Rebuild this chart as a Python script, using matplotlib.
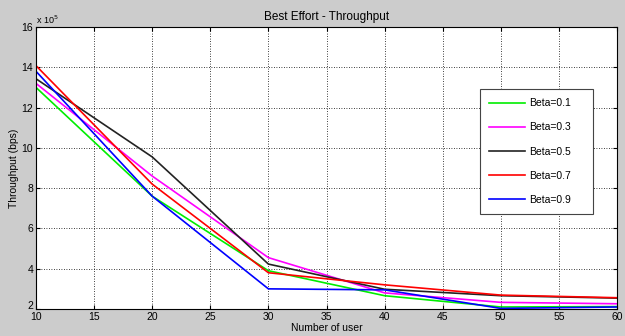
import matplotlib
matplotlib.use("Agg")
import matplotlib.pyplot as plt
from matplotlib.transforms import ScaledTranslation

plt.rcParams["font.family"] = ["Liberation Sans", "DejaVu Sans"]

users = [10, 20, 30, 40, 50, 60]
# throughput in units of 1e5 bps
beta_01 = [13.0, 7.6, 3.9, 2.66, 2.1, 2.12]
beta_03 = [13.2, 8.6, 4.55, 2.8, 2.33, 2.26]
beta_05 = [13.43, 9.55, 4.23, 2.98, 2.66, 2.54]
beta_07 = [14.08, 8.2, 3.8, 3.2, 2.69, 2.56]
beta_09 = [13.8, 7.6, 3.0, 2.95, 2.03, 2.1]

series = [
    ("Beta=0.1", beta_01, "#00ee00"),
    ("Beta=0.3", beta_03, "#ff00ff"),
    ("Beta=0.5", beta_05, "#222222"),
    ("Beta=0.7", beta_07, "#ff0000"),
    ("Beta=0.9", beta_09, "#0000ff"),
]

fig = plt.figure(figsize=(6.25, 3.36), dpi=100, facecolor="#cccccc")
ax = fig.add_axes([36 / 625, 1 - 309 / 336, 581 / 625, 282 / 336])

for label, vals, color in series:
    ax.plot(users, vals, color=color, linewidth=1.2, label=label)

ax.set_xlim(10, 60)
ax.set_ylim(2, 16)
ax.set_xticks(range(10, 61, 5))
ax.set_yticks(range(2, 17, 2))
ax.tick_params(direction="in", top=True, right=True, labelsize=7.5, length=3, pad=2)
ax.grid(True, color="black", linestyle=(0, (1, 2)), linewidth=0.6)

# lift the bottom y label so it does not sit on the "10" x label
lab0 = ax.get_yticklabels()[0]
lab0.set_transform(lab0.get_transform() + ScaledTranslation(0, 3 / 72, fig.dpi_scale_trans))

ax.set_title("Best Effort - Throughput", fontsize=8.5, pad=5)
ax.set_xlabel("Number of user", fontsize=7.5, labelpad=1)
ax.set_ylabel("Throughput (bps)", fontsize=7.5, labelpad=2)
ax.text(0.0, 1.005, "x 10$^5$", transform=ax.transAxes, fontsize=6.5,
        ha="left", va="bottom")

leg = ax.legend(loc="upper left", bbox_to_anchor=(0.764, 0.333, 0.194, 0.447),
                mode="expand", borderaxespad=0, fontsize=7.5,
                handlelength=3.4, handletextpad=0.4, labelspacing=1.35,
                borderpad=0.9, fancybox=False, framealpha=1, edgecolor="#444444")
leg.get_frame().set_linewidth(0.8)

fig.savefig("out.png", dpi=100, facecolor=fig.get_facecolor())
